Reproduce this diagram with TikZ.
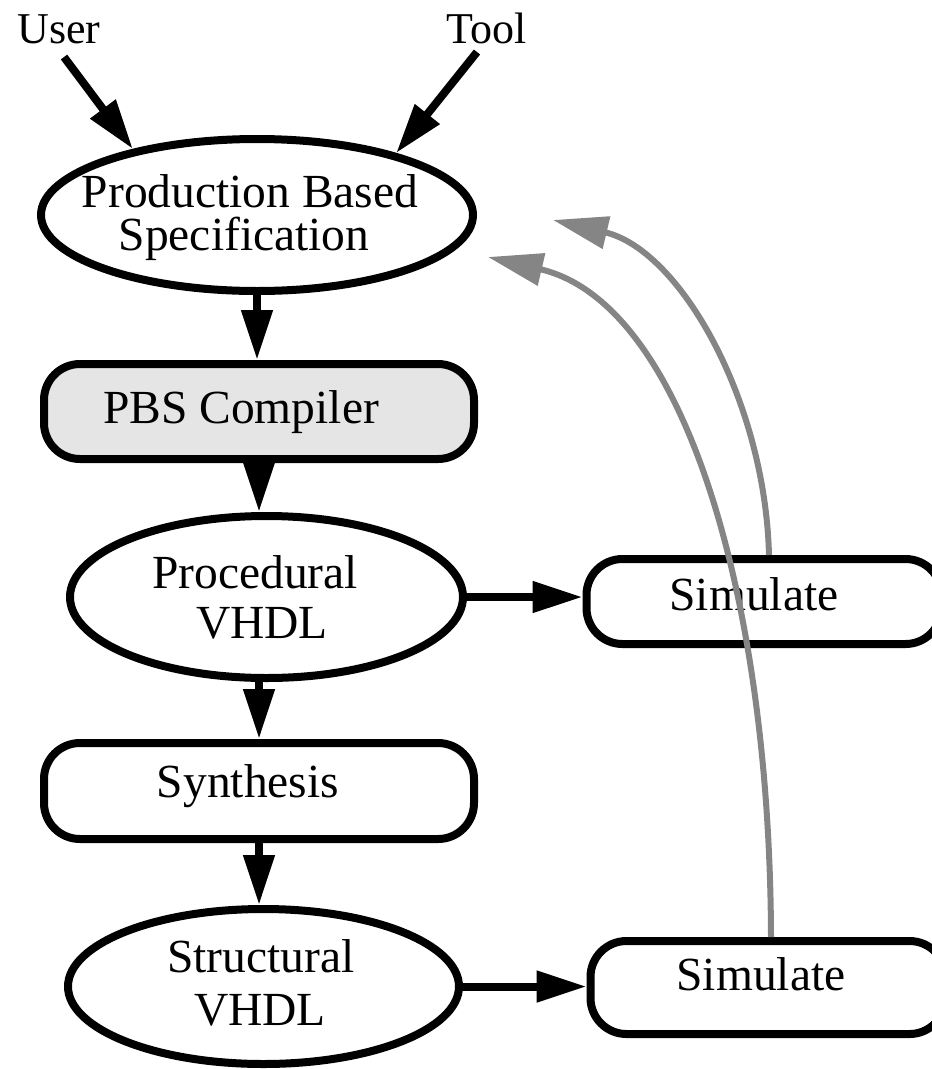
\documentclass[tikz,border=0pt]{standalone}
\usepackage{fontspec}
\setmainfont{Liberation Serif}
\usetikzlibrary{arrows.meta,calc,shapes.geometric}
\definecolor{pbsfill}{gray}{0.9}
\definecolor{loopgray}{gray}{0.52}
\begin{document}
\begin{tikzpicture}[x=1pt,y=-1pt,
  shapeline/.style={draw, line width=8pt},
  oval/.style={shapeline, ellipse, inner sep=0pt},
  capsule/.style={shapeline, rectangle, rounded corners=36pt, inner sep=0pt},
  lbl/.style={anchor=base, inner sep=0pt, font=\fontsize{47.5}{50}\selectfont},
  toplbl/.style={anchor=base, inner sep=0pt, font=\fontsize{44}{48}\selectfont},
  flow/.style={line width=8pt, -{Triangle[length=50pt,width=30pt]}},
  loopback/.style={draw=loopgray, line width=6pt, -{Triangle[length=55pt,width=32pt]}}]
\useasboundingbox (0,0) rectangle (932,1069);

% shapes of the flow
\node[oval, minimum width=432pt, minimum height=152pt] (spec) at (257,215) {};
\node[capsule, fill=pbsfill, minimum width=430pt, minimum height=95pt] (pbs) at (259,411.5) {};
\node[oval, minimum width=393pt, minimum height=162pt] (proc) at (266.5,597) {};
\node[capsule, minimum width=355pt, minimum height=85pt] (sim1) at (764,601.5) {};
\node[capsule, minimum width=430pt, minimum height=96pt] (synth) at (259,791) {};
\node[oval, minimum width=391pt, minimum height=155pt] (struct) at (263.5,986.5) {};
\node[capsule, minimum width=355pt, minimum height=93pt] (sim2) at (768,987.5) {};

% labels
\node[toplbl] (user) at (59,43) {User};
\node[toplbl] (tool) at (487,43) {Tool};
\node[lbl] (specA) at (250,207) {Production Based};
\node[lbl] (specB) at (244,250) {Specification};
\node[lbl] (pbsT) at (241,423) {PBS Compiler};
\node[lbl] (procA) at (255,588) {Procedural};
\node[lbl] (procB) at (262,638) {VHDL};
\node[lbl] (sim1T) at (754,610) {Simulate};
\node[lbl] (synthT) at (248,797) {Synthesis};
\node[lbl] (structA) at (261,972) {Structural};
\node[lbl] (structB) at (260,1025) {VHDL};
\node[lbl] (sim2T) at (761,990) {Simulate};

% main flow
\draw[flow] ([shift={(5,14)}]user.base) -- (spec.152);
\draw[flow] ([shift={(-10,9)}]tool.base) -- (spec.24);
\draw[flow] (spec.south) -- (spec.south |- pbs.north);
\draw[flow] ([yshift=8pt]pbs.south) -- (pbs.south |- proc.north);
\draw[flow] (synth.north |- proc.south) -- (synth.north);
\draw[flow] (synth.south) -- (synth.south |- struct.north);
\draw[flow] (proc.east) -- (proc.east -| sim1.west);
\draw[flow] (struct.east) -- (struct.east -| sim2.west);

% feedback from the simulations
\coordinate (fb1) at (553,220);
\coordinate (fb2) at (488,257);
\draw[loopback] ([xshift=5pt]sim1.north) .. controls (765,400) and (680,250) .. (fb1);
\draw[loopback] ([xshift=3pt]sim2.north) .. controls (770,600) and (685,303) .. (fb2);
\end{tikzpicture}
\end{document}
